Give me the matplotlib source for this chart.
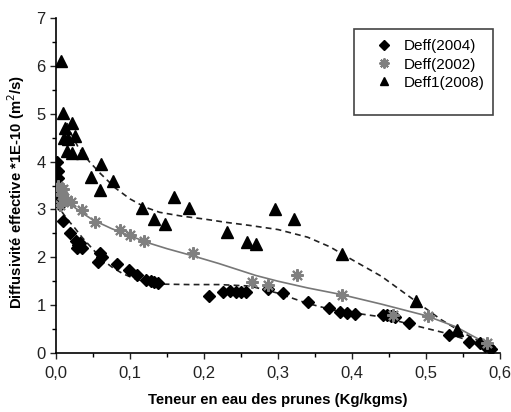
import matplotlib
matplotlib.use("Agg")
import matplotlib.pyplot as plt
from matplotlib.ticker import MultipleLocator, FuncFormatter
from matplotlib.patches import Rectangle

plt.rcParams['font.family'] = ['Liberation Sans', 'DejaVu Sans']

# Deff(2004) - diamonds
d04_x = [0.002, 0.003, 0.003, 0.004, 0.004, 0.005, 0.006, 0.0095, 0.019, 0.027, 0.030, 0.033,
         0.035, 0.028, 0.059, 0.062, 0.057, 0.083, 0.098, 0.109, 0.122, 0.128, 0.133, 0.138,
         0.207, 0.226, 0.235, 0.243, 0.250, 0.257, 0.287, 0.307, 0.340, 0.369, 0.384, 0.393,
         0.404, 0.442, 0.447, 0.452, 0.458, 0.477, 0.531, 0.558, 0.573, 0.580, 0.585, 0.588]
d04_y = [4.00, 3.80, 3.65, 3.50, 3.35, 3.20, 3.10, 2.75, 2.50, 2.35, 2.25, 2.30,
         2.20, 2.20, 2.10, 2.00, 1.90, 1.87, 1.73, 1.62, 1.52, 1.50, 1.48, 1.47,
         1.19, 1.28, 1.30, 1.28, 1.28, 1.28, 1.33, 1.25, 1.06, 0.95, 0.85, 0.83,
         0.82, 0.80, 0.80, 0.78, 0.76, 0.62, 0.37, 0.23, 0.20, 0.15, 0.12, 0.08]

# Deff(2002) - stars
d02_x = [0.003, 0.005, 0.008, 0.011, 0.015, 0.020, 0.006, 0.010, 0.035, 0.053, 0.086,
         0.100, 0.119, 0.185, 0.265, 0.287, 0.325, 0.386, 0.456, 0.503, 0.582]
d02_y = [3.50, 3.40, 3.30, 3.23, 3.20, 3.15, 3.10, 3.42, 2.98, 2.74, 2.58,
         2.46, 2.35, 2.08, 1.48, 1.42, 1.64, 1.22, 0.79, 0.77, 0.20]

# Deff1(2008) - triangles
d08_x = [0.007, 0.009, 0.022, 0.012, 0.026, 0.011, 0.016, 0.015, 0.021, 0.035, 0.061,
         0.047, 0.077, 0.059, 0.116, 0.132, 0.147, 0.159, 0.180, 0.231, 0.258, 0.270,
         0.296, 0.322, 0.386, 0.486, 0.542]
d08_y = [6.10, 5.02, 4.81, 4.70, 4.54, 4.50, 4.48, 4.23, 4.19, 4.17, 3.96,
         3.67, 3.60, 3.40, 3.04, 2.80, 2.70, 3.25, 3.02, 2.52, 2.31, 2.27,
         3.00, 2.79, 2.06, 1.08, 0.48]

# Fitted curves
fit08_x = [0.01, 0.02, 0.03, 0.045, 0.06, 0.08, 0.10, 0.12, 0.14, 0.17, 0.20, 0.23, 0.26,
           0.30, 0.34, 0.37, 0.40, 0.44, 0.48, 0.52, 0.55, 0.59]
fit08_y = [5.00, 4.60, 4.30, 4.00, 3.75, 3.45, 3.22, 3.05, 2.94, 2.86, 2.80, 2.73, 2.67,
           2.58, 2.42, 2.22, 1.95, 1.60, 1.15, 0.70, 0.42, 0.10]

fit04_x = [0.008, 0.015, 0.026, 0.035, 0.045, 0.055, 0.065, 0.077, 0.09, 0.105, 0.122, 0.14,
           0.18, 0.22, 0.262, 0.30, 0.339, 0.374, 0.41, 0.442, 0.478, 0.528, 0.586]
fit04_y = [2.95, 2.80, 2.60, 2.42, 2.25, 2.08, 1.92, 1.78, 1.66, 1.56, 1.48, 1.44,
           1.43, 1.43, 1.40, 1.25, 1.04, 0.90, 0.82, 0.75, 0.60, 0.41, 0.12]

fit02_x = [0.0, 0.01, 0.02, 0.035, 0.05, 0.075, 0.10, 0.125, 0.15, 0.185, 0.22, 0.27,
           0.30, 0.34, 0.386, 0.44, 0.50, 0.54, 0.59]
fit02_y = [3.45, 3.25, 3.10, 2.93, 2.78, 2.60, 2.45, 2.30, 2.18, 2.03, 1.87, 1.62,
           1.50, 1.36, 1.22, 1.02, 0.78, 0.55, 0.13]

labels = ['Deff(2004)', 'Deff(2002)', 'Deff1(2008)']

fig = plt.figure(figsize=(5.11, 4.12), dpi=100)
ax = fig.add_axes([0.1096, 0.1432, 0.869, 0.813])

ax.plot(fit08_x, fit08_y, color='#222222', ls=(0, (3.5, 2.5)), lw=1.2, zorder=2)
ax.plot(fit04_x, fit04_y, color='#222222', ls=(0, (3.5, 2.5)), lw=1.2, zorder=2)
ax.plot(fit02_x, fit02_y, color='#777777', ls='-', lw=1.2, zorder=2)

h1, = ax.plot(d04_x, d04_y, ls='none', marker='D', ms=6.5, color='black', zorder=3)
h2, = ax.plot(d02_x, d02_y, ls='none', marker=(8, 2, 0), ms=9, mew=1.5, color='#808080', zorder=3)
h3, = ax.plot(d08_x, d08_y, ls='none', marker='^', ms=8, color='black', zorder=3)

ax.set_xlim(0, 0.6)
ax.set_ylim(0, 7)
for s in ['top', 'right']:
    ax.spines[s].set_visible(False)
ax.spines['left'].set_linewidth(1.2)
ax.spines['bottom'].set_linewidth(1.2)

ax.xaxis.set_major_locator(MultipleLocator(0.1))
ax.xaxis.set_minor_locator(MultipleLocator(0.05))
ax.yaxis.set_major_locator(MultipleLocator(1))
ax.yaxis.set_minor_locator(MultipleLocator(0.5))
ax.xaxis.set_major_formatter(FuncFormatter(lambda v, p: f"{v:.1f}".replace('.', ',')))
ax.tick_params(which='major', direction='out', length=4, width=1, labelsize=12, colors='#222222')
ax.tick_params(which='minor', direction='out', length=3, width=1)
ax.tick_params(axis='x', pad=5)

ax.set_xlabel('Teneur en eau des prunes (Kg/kgms)', fontsize=10.7, fontweight='bold')
ax.set_ylabel('Diffusivité effective *1E-10 (m$^2$/s)', fontsize=10.7, fontweight='bold')
ax.xaxis.set_label_coords(0.5, -0.12)
ax.yaxis.set_label_coords(-0.066, 0.48)

leg = ax.legend([h1, h2, h3], labels, loc='upper left', bbox_to_anchor=(0.705, 0.955),
                frameon=False, fontsize=11, handletextpad=0.7, labelspacing=0.28,
                handlelength=1.2, borderaxespad=0, markerscale=0.8)
rect = Rectangle((0.671, 0.71), 0.313, 0.257, transform=ax.transAxes, fill=False,
                 edgecolor='#444444', lw=1.2, clip_on=False)
ax.add_patch(rect)

fig.savefig('out.png', dpi=100)
